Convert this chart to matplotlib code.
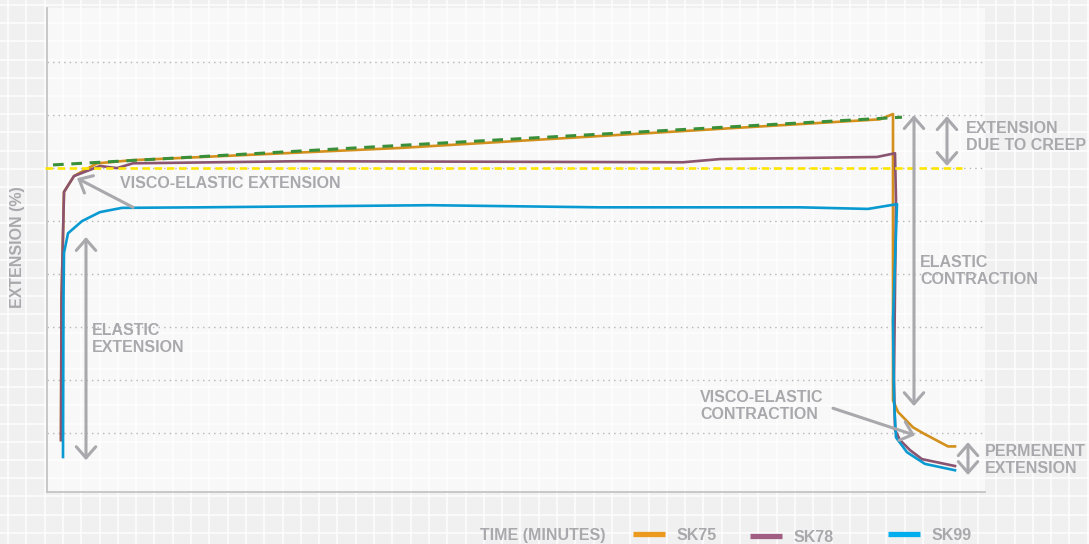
import numpy as np
import matplotlib.pyplot as plt
from matplotlib.lines import Line2D

# time in minutes, extension in %
sk75_t = [0, 0.05, 0.3, 1.3, 3.6, 7.2, 33.9, 81.9, 83.2, 83.2, 83.7, 85.2, 86.2, 88.7, 89.4]
sk75_v = [0.87, 3.51, 5.55, 5.85, 6.09, 6.15, 6.38, 6.92, 7.02, 1.62, 1.40, 1.11, 1.00, 0.75, 0.75]

sk78_t = [0, 0.05, 0.3, 1.3, 3.9, 5.6, 7.2, 23.9, 62.2, 65.9, 81.6, 83.4, 83.5, 83.3, 83.4,
          83.9, 84.9, 86.1, 89.4]
sk78_v = [0.87, 3.51, 5.55, 5.85, 6.04, 6.00, 6.09, 6.13, 6.11, 6.17, 6.21, 6.28, 5.40, 2.00, 1.06,
          0.87, 0.68, 0.51, 0.38]

sk99_t = [0.2, 0.25, 0.3, 0.7, 2.1, 3.9, 6.1, 13.9, 36.9, 53.9, 73.9, 80.7, 83.6, 83.2, 83.3,
          83.5, 84.6, 86.4, 89.4]
sk99_v = [0.55, 3.51, 4.40, 4.77, 5.00, 5.17, 5.25, 5.26, 5.30, 5.26, 5.26, 5.23, 5.32, 3.13, 1.62,
          0.92, 0.64, 0.42, 0.30]

creep_t = [-0.8, 84.1]
creep_v = [6.06, 6.96]
elastic_level = 6.0

series = ['SK75', 'SK78', 'SK99']
line_colors = {'SK75': '#d4901c', 'SK78': '#8a5470', 'SK99': '#0a9ad2'}
legend_colors = {'SK75': '#ec9a1e', 'SK78': '#a05f82', 'SK99': '#00aeef'}
grey = '#a9a9ad'

plt.rcParams['font.family'] = ['Liberation Sans', 'DejaVu Sans']
plt.rcParams['font.weight'] = 'bold'

fig = plt.figure(figsize=(10.89, 5.44), dpi=100)
fig.patch.set_facecolor('#f0f0f0')

# graph-paper background
bg = fig.add_axes([0, 0, 1, 1], zorder=-5)
bg.set_xlim(0, 1089)
bg.set_ylim(544, 0)
bg.axis('off')
for gx in np.arange(8, 1089, 18.3):
    bg.axvline(gx, color='white', lw=1.3, alpha=0.8)
for gy in np.arange(5, 544, 18.2):
    bg.axhline(gy, color='white', lw=1.3, alpha=0.8)

ax = fig.add_axes([47 / 1089, 52 / 544, 938 / 1089, 484 / 544])
ax.set_facecolor((1, 1, 1, 0.6))
ax.set_xlim(-1.4, 92.4)
ax.set_ylim(-0.11, 9.02)

ax.set_yticks(range(1, 9))
ax.set_xticks([])
ax.tick_params(axis='y', length=0, labelleft=False)
ax.grid(axis='y', color='#b5b5b5', lw=1.0, linestyle=(0, (1, 3)))
for s in ['top', 'right']:
    ax.spines[s].set_visible(False)
for s in ['left', 'bottom']:
    ax.spines[s].set_color('#c4c4c4')
    ax.spines[s].set_linewidth(1.3)

ax.plot(sk75_t, sk75_v, color=line_colors['SK75'], lw=1.9, zorder=2)
ax.plot(sk78_t, sk78_v, color=line_colors['SK78'], lw=1.9, zorder=2)
ax.plot(sk99_t, sk99_v, color=line_colors['SK99'], lw=1.9, zorder=2)
ax.plot([-1.6, 90.1], [elastic_level, elastic_level], color='#ffe600', lw=1.9,
        dashes=(2.8, 1.8), zorder=3, clip_on=False)
ax.plot(creep_t, creep_v, color='#3a8f3a', lw=2.2, dashes=(3.5, 2.5), zorder=3)

txt = dict(color=grey, fontsize=11.5, fontweight='bold', linespacing=1.15)
arw = dict(color=grey, lw=2.2, shrinkA=0, shrinkB=0)


def arrow(x0, y0, x1, y1, style):
    ax.annotate('', xy=(x1, y1), xytext=(x0, y0), zorder=4, annotation_clip=False,
                arrowprops=dict(arrowstyle=style + ',head_length=0.4,head_width=0.35',
                                mutation_scale=20, **arw))


# elastic extension
arrow(2.5, 0.49, 2.5, 4.70, '<->')
ax.text(3.1, 2.77, 'ELASTIC\nEXTENSION', ha='left', va='center', **txt)

# visco-elastic extension
arrow(7.2, 5.26, 1.6, 5.81, '->')
ax.text(5.9, 5.70, 'VISCO-ELASTIC EXTENSION', ha='left', va='center', **txt)

# elastic contraction
arrow(85.3, 1.51, 85.3, 7.00, '<->')
ax.text(85.9, 4.06, 'ELASTIC\nCONTRACTION', ha='left', va='center', **txt)

# creep
arrow(88.6, 6.04, 88.6, 6.98, '<->')
ax.text(90.5, 6.58, 'EXTENSION\nDUE TO CREEP', ha='left', va='center', clip_on=False, **txt)

# visco-elastic contraction
arrow(77.2, 1.47, 85.4, 0.96, '->')
ax.text(63.9, 1.51, 'VISCO-ELASTIC\nCONTRACTION', ha='left', va='center', **txt)

# permanent extension
arrow(90.7, 0.21, 90.7, 0.83, '<->')
ax.text(92.4, 0.49, 'PERMENENT\nEXTENSION', ha='left', va='center', clip_on=False, **txt)

ax.set_ylabel('EXTENSION (%)', color=grey, fontsize=11.5, fontweight='bold', va='center')
ax.yaxis.set_label_coords(-0.031, 0.506)
ax.set_xlabel('TIME (MINUTES)', color=grey, fontsize=11.5, fontweight='bold', va='center')
ax.xaxis.set_label_coords((542.5 - 47) / 938, -0.089)

# one legend entry per series, placed like the original footer
legend_pos = {'SK75': (633, 535.5), 'SK78': (750, 537), 'SK99': (888, 535.5)}
for k in series:
    h = Line2D([], [], color=legend_colors[k], lw=3.8, solid_capstyle='butt')
    px, py = legend_pos[k]
    leg = fig.legend([h], [k], frameon=False, loc='center left',
                     bbox_to_anchor=(px / 1089, 1 - py / 544),
                     borderaxespad=0, borderpad=0, handlelength=2.0, handletextpad=0.7,
                     prop={'size': 11.5, 'weight': 'bold'})
    for t in leg.get_texts():
        t.set_color(grey)

fig.savefig('out.png', dpi=100, facecolor=fig.get_facecolor())
